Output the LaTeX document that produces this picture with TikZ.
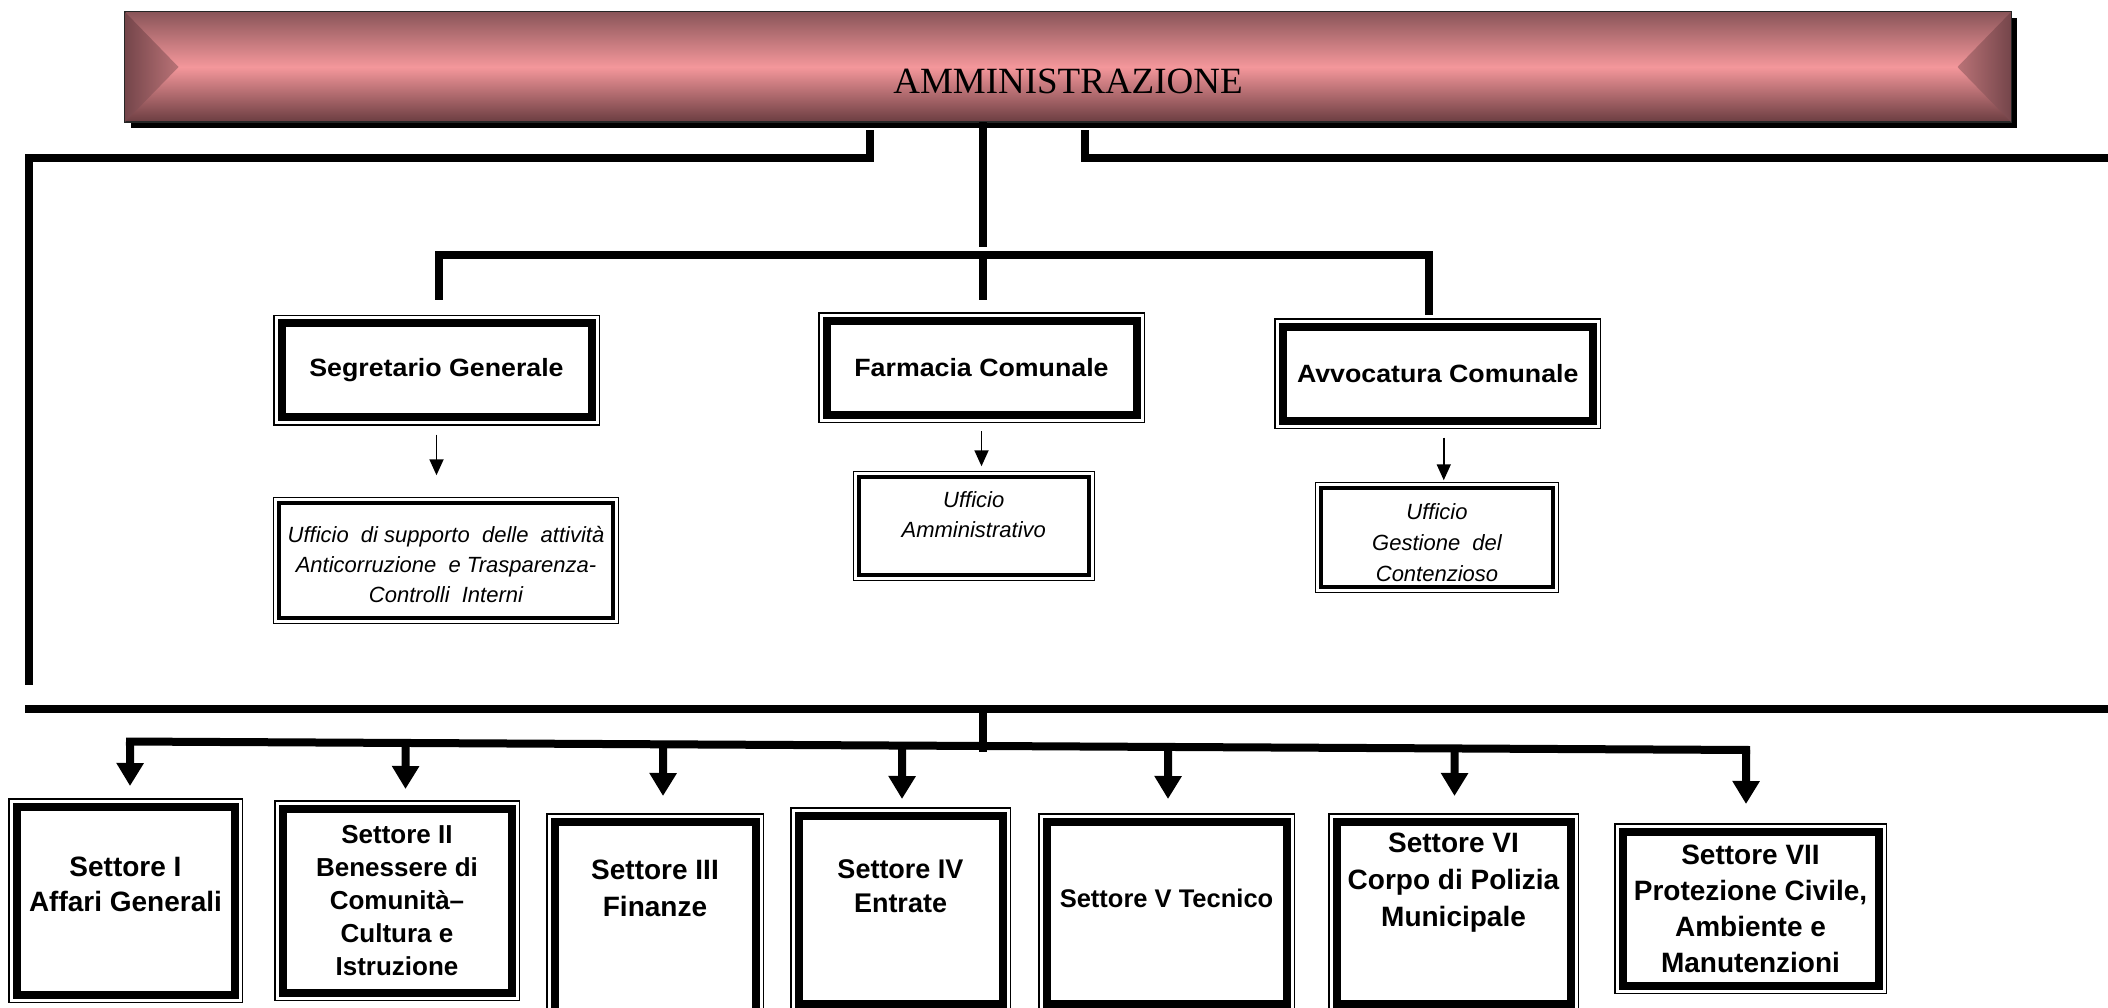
\documentclass[tikz,border=0pt]{standalone}
\usepackage{fontspec}
\setmainfont{Liberation Serif}
\setsansfont{Liberation Sans}
\newfontfamily\boxfont[FakeStretch=1.07]{Liberation Sans}
\usepackage{xcolor}
\usetikzlibrary{arrows.meta,positioning,calc,shadows}

\definecolor{barTop}{HTML}{8A5559}
\definecolor{barMid}{HTML}{F4979B}
\definecolor{barBot}{HTML}{6B3D41}
\definecolor{barEdge}{HTML}{74454A}

\begin{document}
\begin{tikzpicture}[
    x=1pt, y=-1pt,
    bus/.style={line width=8pt, line join=miter},
    drop/.style={bus, -{Triangle[length=23pt,width=26pt]}},
    lead/.style={line width=1.8pt, -{Triangle[length=16pt,width=14pt]}},
    titlebar/.style={rectangle, draw=black!85, line width=1pt, top color=barTop, bottom color=barBot, middle color=barMid,
        drop shadow={shadow xshift=6pt, shadow yshift=-6pt, fill=black, opacity=1}},
    unit/.style={rectangle, draw, fill=white, line width=8pt, preaction={draw, line width=17pt}, preaction={draw=white, line width=14pt},
        font=\boxfont\bfseries\fontsize{25}{30}\selectfont},
    office/.style={rectangle, draw, fill=white, line width=3.5pt, preaction={draw, line width=12pt}, preaction={draw=white, line width=9.5pt}},
    offtxt/.style={font=\sffamily\itshape\fontsize{22}{30}\selectfont, align=center, inner sep=0pt},
    sector/.style={rectangle, draw, fill=white, line width=8pt, preaction={draw, line width=17pt}, preaction={draw=white, line width=14pt}},
    sectxt/.style={font=\sffamily\bfseries\fontsize{28}{36}\selectfont, align=center, inner sep=0pt}
]
    \useasboundingbox (0,0) rectangle (2108,1008);

    % title bar
    \node [titlebar, minimum width=1886pt, minimum height=110pt] (amm) at (1068,67) {};
    \shade [left color=barEdge, right color=barTop!55!barMid] (amm.north west) -- ([xshift=54pt]amm.west) -- (amm.south west) -- cycle;
    \shade [right color=barEdge, left color=barTop!55!barMid] (amm.north east) -- ([xshift=-54pt]amm.east) -- (amm.south east) -- cycle;
    \draw [line width=1pt, black!85] (amm.north west) rectangle (amm.south east);
    \node [font=\fontsize{37}{40}\selectfont, inner sep=0pt] (ammtxt) at (1068,81) {AMMINISTRAZIONE};

    % staff offices
    \node [unit, minimum width=310pt, minimum height=94pt] (segr) at (436.5,370) {Segretario Generale};
    \node [unit, minimum width=310pt, minimum height=94pt] (farm) at (981.5,367.5) {Farmacia Comunale};
    \node [unit, minimum width=310pt, minimum height=94pt] (avv) at (1437.75,373.5) {Avvocatura Comunale};

    \node [office, minimum width=334pt, minimum height=115pt] (uff1) at (446,560.5) {};
    \node [offtxt] (uff1txt) at ([yshift=-4.5pt]uff1) {Ufficio~ di supporto~ delle~ attività\\Anticorruzione~ e Trasparenza-\\Controlli~ Interni};
    \node [office, minimum width=230pt, minimum height=98pt] (uff2) at (973.75,526) {};
    \node [offtxt] (uff2txt) at ([yshift=11pt]uff2) {Ufficio\\Amministrativo};
    \node [office, minimum width=232pt, minimum height=99pt] (uff3) at (1437,537.5) {};
    \node [offtxt, font=\sffamily\itshape\fontsize{22}{31}\selectfont] (uff3txt) at ([yshift=-5.5pt]uff3) {Ufficio\\Gestione~ del\\Contenzioso};

    \draw [lead] ([yshift=-13.5pt]segr.south) -- ([yshift=26pt]segr.south |- uff1.north);
    \draw [lead] ([yshift=-12.5pt]farm.south) -- ([yshift=9pt]farm.south |- uff2.north);
    \draw [lead] ([xshift=6pt,yshift=-13pt]avv.south) -- ([xshift=6pt,yshift=6pt]avv.south |- uff3.north);

    % sectors
    \node [sector, minimum width=218pt, minimum height=188pt] (s1) at (125.5,900.5) {};
    \node [sectxt, font=\sffamily\bfseries\fontsize{28}{35}\selectfont] (s1txt) at ([yshift=16pt]s1) {Settore I\\Affari Generali};
    \node [sector, minimum width=229pt, minimum height=184pt] (s2) at (397,900.5) {};
    \node [sectxt, font=\sffamily\bfseries\fontsize{26}{33}\selectfont] (s2txt) at (s2) {Settore II\\Benessere di\\Comunità–\\Cultura e\\Istruzione};
    \node [sector, minimum width=201pt, minimum height=190pt] (s3) at (655,916.5) {};
    \node [sectxt, font=\sffamily\bfseries\fontsize{28}{37}\selectfont] (s3txt) at ([yshift=28pt]s3) {Settore III\\Finanze};
    \node [sector, minimum width=204pt, minimum height=188pt] (s4) at (900.5,909.5) {};
    \node [sectxt, font=\sffamily\bfseries\fontsize{27}{34}\selectfont] (s4txt) at ([yshift=23pt]s4) {Settore IV\\Entrate};
    \node [sector, minimum width=240pt, minimum height=182pt] (s5) at (1166.5,912.5) {};
    \node [sectxt, font=\sffamily\bfseries\fontsize{25.5}{30}\selectfont] (s5txt) at ([yshift=14.5pt]s5) {Settore V Tecnico};
    \node [sector, minimum width=234pt, minimum height=182pt] (s6) at (1453.5,912.5) {};
    \node [sectxt, font=\sffamily\bfseries\fontsize{28}{37}\selectfont] (s6txt) at ([yshift=29.5pt]s6) {Settore VI\\Corpo di Polizia\\Municipale};
    \node [sector, minimum width=256pt, minimum height=154pt] (s7) at (1750.5,908.5) {};
    \node [sectxt] (s7txt) at (s7) {Settore VII\\Protezione Civile,\\Ambiente e\\Manutenzioni};

    % upper connectors
    \coordinate (tapW) at ([xshift=-198pt,yshift=-8pt]amm.south);
    \coordinate (tapE) at ([xshift=17pt,yshift=-8pt]amm.south);
    \coordinate (legW) at (29,685);
    \coordinate (edgeE) at (2116,158);
    \coordinate (hub) at (983,255);
    \draw [bus] (tapW) |- (legW |- edgeE) -- (legW);
    \draw [bus] (tapE) |- (edgeE);
    \draw [bus] (amm.south -| hub) -- ([yshift=8pt]hub);
    \draw [bus] ([xshift=2.5pt,yshift=19.5pt]segr.north) |- (hub) -| ([xshift=-9pt,yshift=8pt]avv.north);
    \draw [bus] (hub) -- ([yshift=16.5pt]farm.north -| hub);

    % lower connectors
    \coordinate (busW) at (25,709);
    \coordinate (busE) at (2116,709);
    \coordinate (barW) at (126,741.5);
    \coordinate (barE) at (1750,750);
    \draw [bus] (busW) -- (busE);
    \draw [bus] (busW -| hub) -- ++(0,43);
    \draw [bus] (barW) -- (barE);
    \foreach \s/\dx/\dy in {s1/4.5/16.5, s2/8.5/15.5, s3/8/21.5, s4/1.5/12.5, s5/1.5/18.5, s6/1/21.5, s7/-4.5/23.5}{
        \coordinate (tip) at ([xshift=\dx pt,yshift=\dy pt]\s.north);
        \draw [drop] ($(barW)!(tip)!(barE)$) -- (tip);
    }
\end{tikzpicture}
\end{document}
